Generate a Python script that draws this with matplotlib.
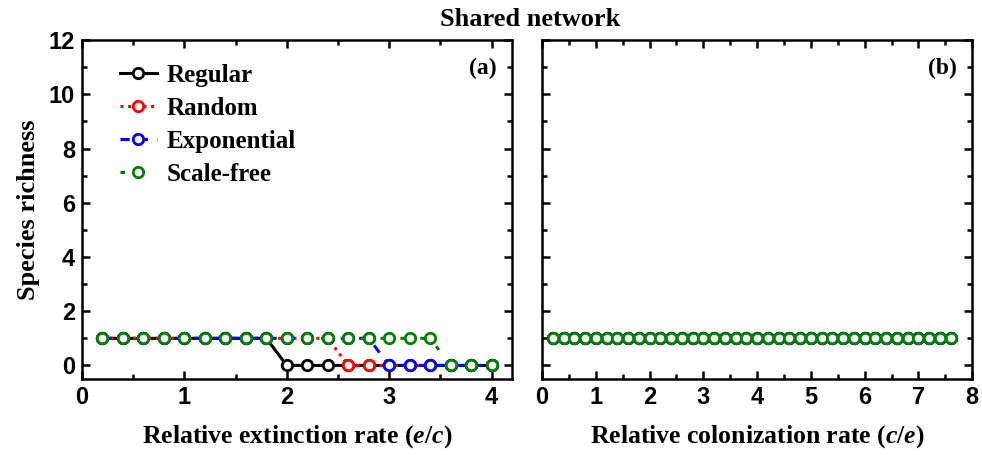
import matplotlib
matplotlib.use("Agg")
import matplotlib.pyplot as plt
from matplotlib.ticker import MultipleLocator

# panel (a): species richness vs relative extinction rate e/c
ext_rate = [0.2, 0.4, 0.6, 0.8, 1.0, 1.2, 1.4, 1.6, 1.8, 2.0,
            2.2, 2.4, 2.6, 2.8, 3.0, 3.2, 3.4, 3.6, 3.8, 4.0]
regular_a = [1, 1, 1, 1, 1, 1, 1, 1, 1, 0, 0, 0, 0, 0, 0, 0, 0, 0, 0, 0]
random_a = [1, 1, 1, 1, 1, 1, 1, 1, 1, 1, 1, 1, 0, 0, 0, 0, 0, 0, 0, 0]
expon_a = [1, 1, 1, 1, 1, 1, 1, 1, 1, 1, 1, 1, 1, 1, 0, 0, 0, 0, 0, 0]
scalefree_a = [1, 1, 1, 1, 1, 1, 1, 1, 1, 1, 1, 1, 1, 1, 1, 1, 1, 0, 0, 0]

# panel (b): species richness vs relative colonization rate c/e
col_rate = [round(0.2 * i, 1) for i in range(1, 39)]
richness_b = [1] * len(col_rate)

names = ["Regular", "Random", "Exponential", "Scale-free"]
colors = ["black", "red", "blue", "green"]
styles = ["-", (0, (1, 1.5)), (0, (3, 3)), (0, (1.5, 5))]

serif = ["Liberation Serif", "DejaVu Serif"]
sans = ["Liberation Sans", "DejaVu Sans"]

# bold italic serif letters inside the axis labels
plt.rcParams["mathtext.fontset"] = "custom"
plt.rcParams["mathtext.it"] = "Liberation Serif:italic:bold"
plt.rcParams["mathtext.rm"] = "Liberation Serif:bold"
plt.rcParams["mathtext.bf"] = "Liberation Serif:bold"

fig = plt.figure(figsize=(9.82, 4.55), dpi=100)
ax1 = fig.add_axes([0.0835, 0.167, 0.438, 0.745])
ax2 = fig.add_axes([0.552, 0.167, 0.438, 0.745])

series_a = [regular_a, random_a, expon_a, scalefree_a]
for ys, name, c, ls in zip(series_a, names, colors, styles):
    ax1.plot(ext_rate, ys, linestyle=ls, color=c, lw=2.2, marker="o",
             ms=7.5, mfc="white", mec=c, mew=2, label=name)

for name, c, ls in zip(names, colors, styles):
    ax2.plot(col_rate, richness_b, linestyle=ls, color=c, lw=2.2, marker="o",
             ms=7.5, mfc="white", mec=c, mew=2)

for ax, xmax in [(ax1, 4.2), (ax2, 8)]:
    ax.set_xlim(0, xmax)
    ax.set_ylim(-0.5, 12)
    ax.xaxis.set_major_locator(MultipleLocator(1))
    ax.xaxis.set_minor_locator(MultipleLocator(0.5))
    ax.yaxis.set_major_locator(MultipleLocator(2))
    ax.yaxis.set_minor_locator(MultipleLocator(1))
    ax.tick_params(which="both", direction="in", top=True, right=True, width=1.8)
    ax.tick_params(which="major", length=6, labelsize=17, pad=5)
    ax.tick_params(which="minor", length=3.5)
    for s in ax.spines.values():
        s.set_linewidth(1.8)
    for lab in ax.get_xticklabels() + ax.get_yticklabels():
        lab.set_family(sans)
        lab.set_fontweight("bold")

ax2.set_yticklabels([])

ax1.set_ylabel("Species richness", family=serif, fontweight="bold", fontsize=19, labelpad=6)
ax1.set_xlabel("Relative extinction rate ($e/c$)", family=serif,
               fontweight="bold", fontsize=18.5, labelpad=10)
ax2.set_xlabel("Relative colonization rate ($c/e$)", family=serif,
               fontweight="bold", fontsize=18.5, labelpad=10)

ax1.text(0.965, 0.915, "(a)", transform=ax1.transAxes, ha="right", va="center",
         family=serif, fontweight="bold", fontsize=17)
ax2.text(0.965, 0.915, "(b)", transform=ax2.transAxes, ha="right", va="center",
         family=serif, fontweight="bold", fontsize=17)

fig.text(0.54, 0.958, "Shared network", ha="center", va="center",
         family=serif, fontweight="bold", fontsize=19)

leg = ax1.legend(loc="upper left", frameon=False, bbox_to_anchor=(0.035, 0.995),
                 handlelength=1.5, handletextpad=0.4, labelspacing=0.4,
                 prop={"family": serif, "weight": "bold", "size": 18})

fig.savefig("out.png", dpi=100)
